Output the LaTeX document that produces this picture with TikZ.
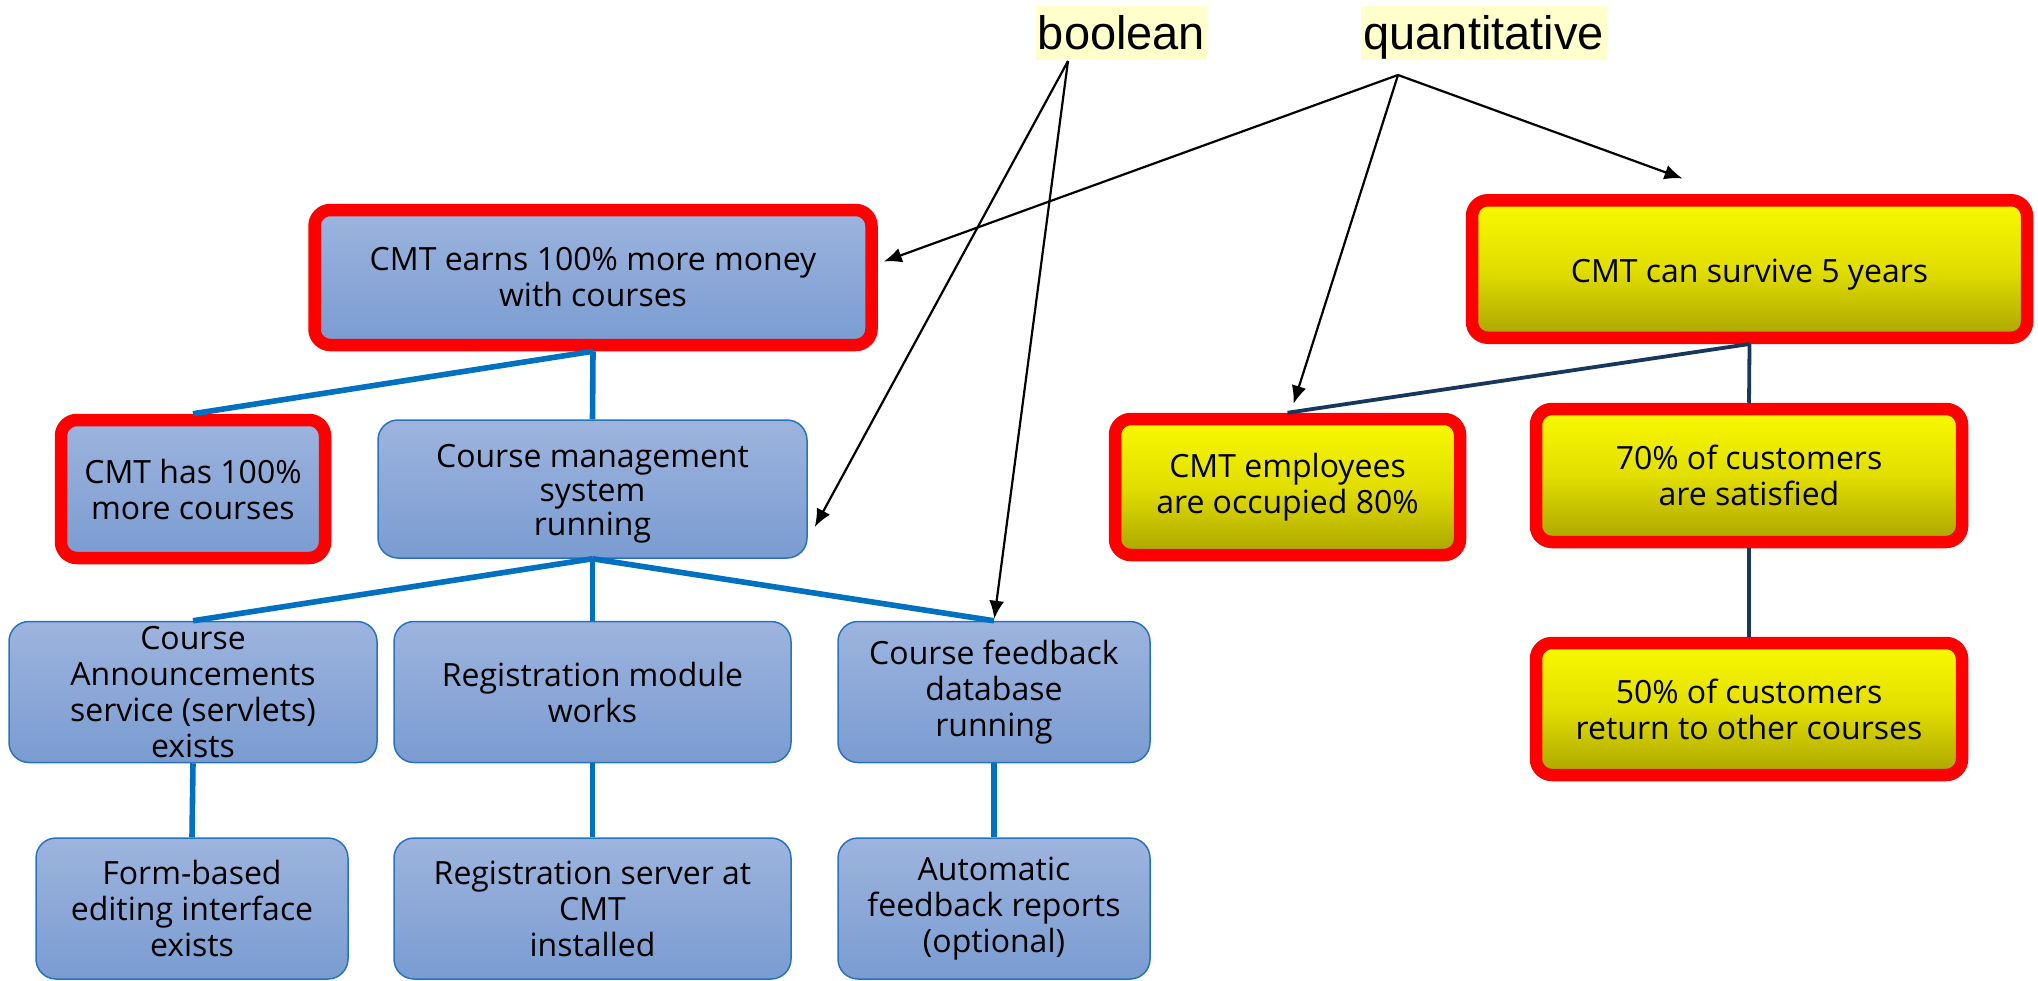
\documentclass[tikz,border=0pt]{standalone}
\usepackage{fontspec}
\setmainfont{Open Sans}
\newfontfamily\labelfont{Liberation Sans}
\usetikzlibrary{arrows.meta,calc}
\definecolor{boxtop}{RGB}{157,180,222}
\definecolor{boxbot}{RGB}{122,156,209}
\definecolor{boxedge}{RGB}{40,115,190}
\definecolor{treeblue}{RGB}{0,112,192}
\definecolor{navy}{RGB}{23,55,94}
\definecolor{goalred}{RGB}{255,0,0}
\definecolor{yeltop}{RGB}{250,250,0}
\definecolor{yelmid}{RGB}{226,222,0}
\definecolor{yelbot}{RGB}{170,165,0}
\definecolor{lemon}{RGB}{255,255,204}
% lower a text block without changing its measured size
\newcommand{\lowerby}[2]{\raisebox{-#1}[\height][\depth]{#2}}
\begin{document}
\begin{tikzpicture}[x=0.5pt,y=-0.5pt,
  txt/.style={align=center, font=\fontsize{16}{18}\selectfont, inner sep=0pt},
  task/.style={txt, rounded corners=10pt, top color=boxtop, bottom color=boxbot,
    draw=boxedge, line width=0.75pt},
  goal/.style={txt, rounded corners=8pt, top color=boxtop, bottom color=boxbot,
    draw=goalred, line width=6.25pt},
  softgoal/.style={txt, rounded corners=8pt, top color=yeltop, bottom color=yelbot,
    middle color=yelmid, draw=goalred, line width=6.25pt},
  boxsize/.style 2 args={minimum width=#1*0.5pt, minimum height=#2*0.5pt},
  tag/.style={fill=lemon, inner sep=0pt, minimum height=27pt, text height=16.8pt,
    text depth=0pt, font=\labelfont\fontsize{23.5}{28}\selectfont},
  tree/.style={draw=treeblue, line width=2.8pt},
  soft/.style={draw=navy, line width=1.9pt},
  arr/.style={-{Latex[length=9pt,width=7.5pt]}, line width=1.1pt, black}]
\useasboundingbox (0,0) rectangle (2038,980);

% hard goals and tasks
\node[goal, boxsize={557}{135}] (A) at (593,277.5) {CMT earns 100\% more money\\with courses};
\node[goal, boxsize={264}{138}] (B) at (193,489) {CMT has 100\%\\more courses};
\node[task, boxsize={429}{138}] (C) at (592.5,489) {\lowerby{2.8pt}{\begin{tabular}{@{}c@{}}Course management\\[-1pt]system\\[-1pt]running\end{tabular}}};
\node[task, boxsize={368}{141}] (D) at (193,692) {Course\\Announcements\\service (servlets)\\exists};
\node[task, boxsize={397}{141}] (E) at (592.5,692) {Registration module\\works};
\node[task, boxsize={312}{141}] (F) at (994,692) {Course feedback\\database\\running};
\node[task, boxsize={312}{141}] (G) at (192,908.5) {Form-based\\editing interface\\exists};
\node[task, boxsize={397}{141}] (H) at (592.5,908.5) {Registration server at\\CMT\\installed};
\node[task, boxsize={312}{141}] (I) at (994,908.5) {Automatic\\feedback reports\\(optional)};

% soft goals
\node[softgoal, boxsize={555}{137.5}] (J) at (1749.5,269) {\lowerby{2.6pt}{CMT can survive 5 years}};
\node[softgoal, boxsize={345}{136}] (K) at (1287.5,487) {CMT employees\\are occupied 80\%};
\node[softgoal, boxsize={426}{133}] (L) at (1749,475.5) {70\% of customers\\are satisfied};
\node[softgoal, boxsize={426}{132}] (M) at (1749,709) {50\% of customers\\return to other courses};

% decomposition links
\draw[tree] (A.south) -- (B.north);
\draw[tree] (A.south) -- (C.north);
\draw[tree] (C.south) -- (D.north);
\draw[tree] (C.south) -- (E.north);
\draw[tree] (C.south) -- (F.north);
\draw[tree] (D.south) -- (G.north);
\draw[tree] (E.south) -- (H.north);
\draw[tree] (F.south) -- (I.north);
\draw[soft] (J.south) -- (K.north);
\draw[soft] (J.south) -- (L.north);
\draw[soft] (L.south) -- (M.north);

% goal type labels
\node[tag, minimum width=85.5pt] (bool) at (1121.5,33) {boolean};
\node[tag, minimum width=122.75pt] (quant) at (1483.75,33) {quantitative};

\coordinate (bo) at (1068,61);
\coordinate (qo) at (1398,75);
\coordinate (tC) at ($(C.east)+(7,38)$);
\coordinate (tA) at ($(A.east)+(6,-16)$);
\coordinate (tK) at ($(K.north)+(6,-9)$);
\coordinate (tJ) at ($(J.north)+(-67,-15.5)$);

\draw[arr] (bo) -- (tC);
\draw[arr, shorten >=1pt] (bo) -- (F.north);
\draw[arr] (qo) -- (tA);
\draw[arr] (qo) -- (tK);
\draw[arr] (qo) -- (tJ);
\end{tikzpicture}
\end{document}
